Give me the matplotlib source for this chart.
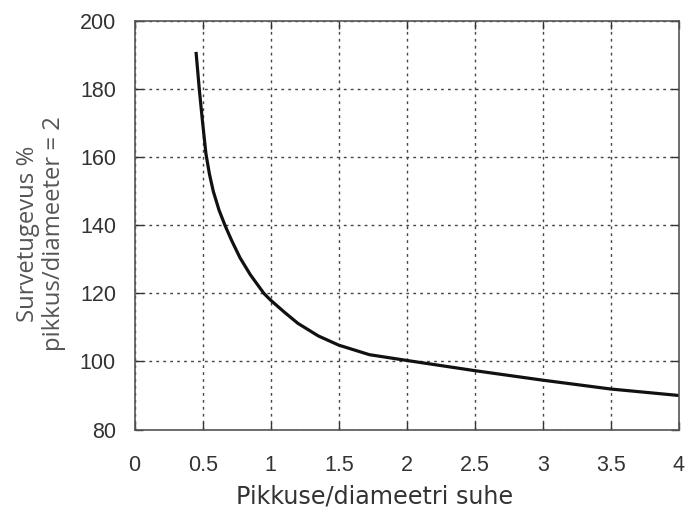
import numpy as np
import matplotlib
matplotlib.use("Agg")
import matplotlib.pyplot as plt

# values
ratio = [0.451, 0.475, 0.50, 0.524, 0.55, 0.578, 0.62, 0.664, 0.71, 0.774, 0.85,
         0.95, 1.0, 1.1, 1.2, 1.35, 1.5, 1.725, 2.0, 2.5, 3.0, 3.5, 4.0]
strength = [191.0, 180.0, 170.0, 161.0, 155.0, 150.0, 144.5, 140.0, 135.8, 130.5, 125.5,
            120.0, 118.0, 114.5, 111.2, 107.5, 104.8, 102.0, 100.3, 97.3, 94.5, 91.9, 90.0]

xticks = [0, 0.5, 1, 1.5, 2, 2.5, 3, 3.5, 4]
xticklabels = ["0", "0.5", "1", "1.5", "2", "2.5", "3", "3.5", "4"]
yticks = [80, 100, 120, 140, 160, 180, 200]

plt.rcParams['font.family'] = ['Liberation Sans', 'DejaVu Sans']

fig = plt.figure(figsize=(6.86, 5.08), dpi=100)
ax = fig.add_axes([0.1963, 0.1545, 0.7934, 0.8036])

ax.plot(ratio, strength, color='#111111', linewidth=2.3,
        solid_capstyle='butt', solid_joinstyle='round')

ax.set_xlim(0, 4)
ax.set_ylim(80, 200)
ax.set_xticks(xticks)
ax.set_xticklabels(xticklabels)
ax.set_yticks(yticks)

ax.grid(True, color='#444444', linestyle=(0, (2, 3)), linewidth=1.0)
ax.tick_params(direction='in', length=6, width=1, top=True, right=True,
               labelsize=15.5, colors='#333333')
ax.tick_params(axis='y', pad=13.5)
ax.tick_params(axis='x', pad=18)
for s in ax.spines.values():
    s.set_color('#555555')
    s.set_linewidth(1.2)

fig.text(375 / 686, 1 - 503 / 508, "Pikkuse/diameetri suhe",
         family='DejaVu Sans', fontsize=17.2, color='#333333',
         ha='center', va='baseline')
fig.text(41 / 686, 1 - 234 / 508, "Survetugevus %\npikkus/diameeter = 2",
         family='Open Sans', fontsize=17.2, color='#555555', rotation=90,
         ha='center', va='center', multialignment='center', linespacing=1.07)

fig.savefig("out.png", dpi=100)
